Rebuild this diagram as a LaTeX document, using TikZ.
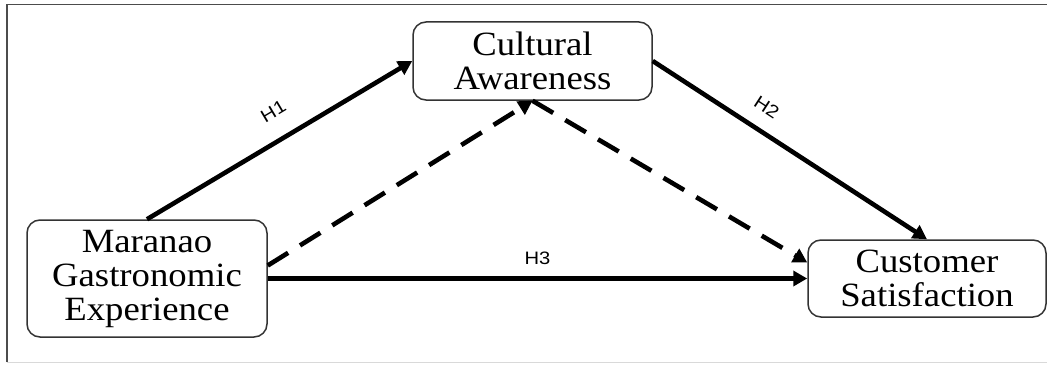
\documentclass[tikz,border=0pt]{standalone}
\usepackage{fontspec}
\setmainfont{Liberation Serif}[FakeStretch=1.08]
\newfontfamily\labfont{Liberation Sans}[FakeStretch=1.12]
\usetikzlibrary{arrows.meta}
\tikzset{
  box/.style={draw=black!80, line width=1.5pt, rounded corners=13pt, align=center,
    inner sep=0pt, font=\fontsize{34}{34}\selectfont},
  conn/.style={line width=4.6pt, -{Triangle[length=14pt,width=15pt]}},
  dconn/.style={conn, dash pattern=on 24pt off 14pt},
  lab/.style={font=\labfont\fontsize{18}{18}\selectfont, sloped, inner sep=0pt},
  frameline/.style={draw=black!70, line width=1.5pt}
}
\begin{document}
\begin{tikzpicture}[x=1pt,y=1pt]
\useasboundingbox (0,0) rectangle (1047,365);
% frame
\draw[frameline] (7,3) -- (7,360.5) -- (1047,360.5);
\draw[black!15, line width=1pt] (7,3) -- (1047,3);
% nodes
\node[box, minimum width=239pt, minimum height=78pt] (ca) at (532.5,304) {Cultural\\Awareness};
\node[box, minimum width=240pt, minimum height=117pt] (mge) at (147,86.5) {Maranao\\Gastronomic\\Experience};
\node[box, minimum width=238pt, minimum height=77pt] (cs) at (927,86.5) {Customer\\Satisfaction};
% connectors
\draw[conn] (mge.north) -- node[lab, pos=.53, yshift=28pt] (h1) {H1} (ca.west);
\draw[conn] (ca.east) -- node[lab, pos=.37, yshift=23pt] (h2) {H2} (cs.north);
\draw[conn] (mge.east) -- node[lab, pos=.5, yshift=20pt] (h3) {H3} (cs.west);
\draw[dconn] ([yshift=13pt]mge.east) -- (ca.south);
\draw[dconn] (ca.south) -- ([yshift=16pt]cs.west);
\end{tikzpicture}
\end{document}
